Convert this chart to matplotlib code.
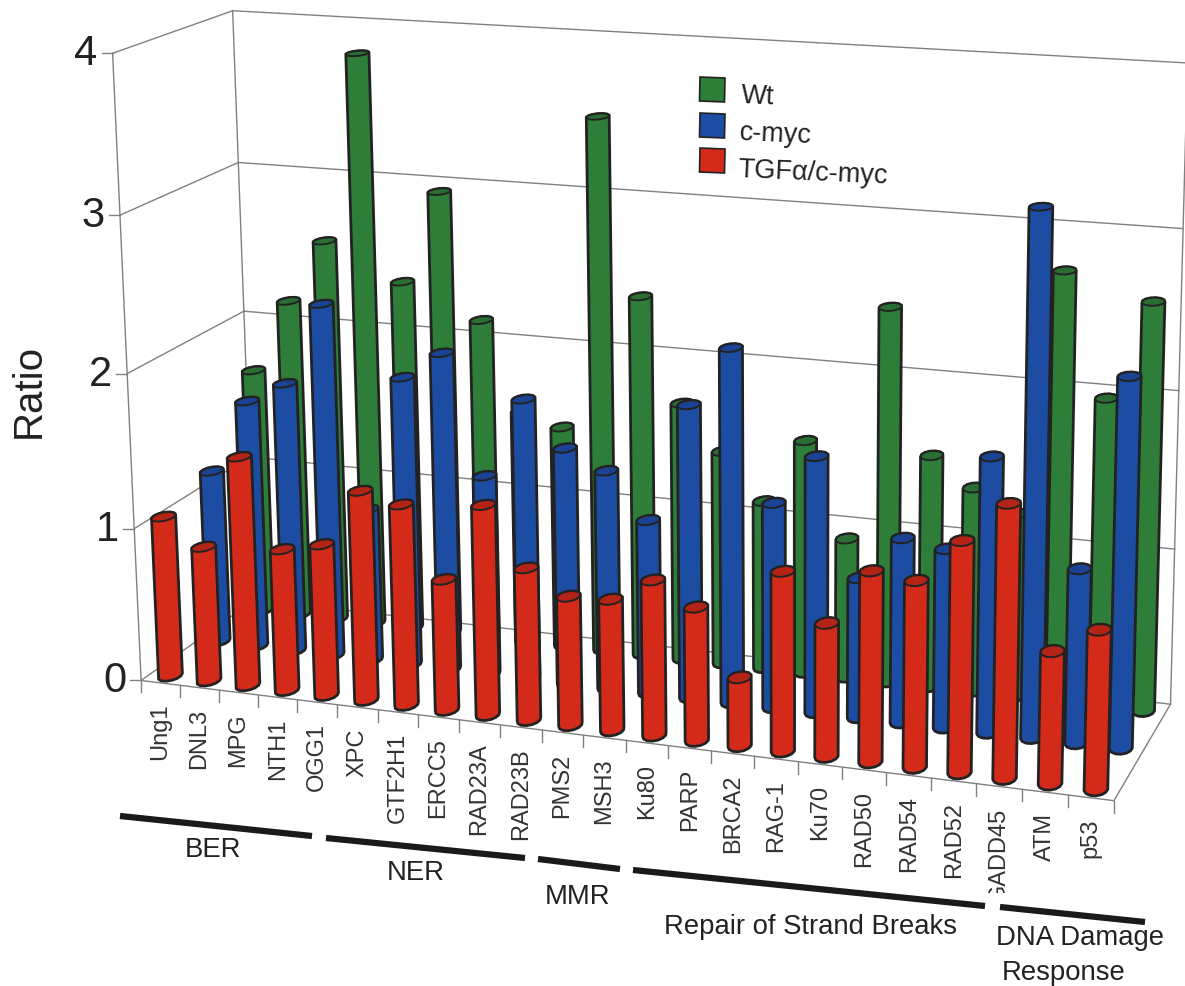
import matplotlib
matplotlib.use("Agg")
import matplotlib.pyplot as plt
import numpy as np
from matplotlib.patches import Polygon, Rectangle

plt.rcParams['font.family'] = ['Liberation Sans', 'DejaVu Sans']

genes = ['Ung1', 'DNL3', 'MPG', 'NTH1', 'OGG1', 'XPC', 'GTF2H1', 'ERCC5', 'RAD23A', 'RAD23B', 'PMS2', 'MSH3',
         'Ku80', 'PARP', 'BRCA2', 'RAG-1', 'Ku70', 'RAD50', 'RAD54', 'RAD52', 'GADD45', 'ATM', 'p53']
wt = [1.65, 2.14, 2.56, 3.80, 2.33, 2.94, 2.12, 1.54, 1.46, 3.49, 2.36, 1.69,
      1.40, 1.10, 1.52, 0.91, 2.42, 1.50, 1.32, 1.18, 2.73, 1.96, 2.58]
myc = [1.15, 1.64, 1.78, 2.32, 1.00, 1.89, 2.07, 1.30, 1.82, 1.53, 1.41, 1.12,
       1.88, 2.26, 1.31, 1.63, 0.89, 1.17, 1.13, 1.73, 3.26, 1.09, 2.29]
tgf = [1.05, 0.88, 1.49, 0.92, 0.98, 1.35, 1.29, 0.84, 1.34, 0.97, 0.82, 0.83,
       0.98, 0.84, 0.43, 1.12, 0.83, 1.18, 1.15, 1.42, 1.67, 0.81, 0.97]
series_names = ['Wt', 'c-myc', 'TGF\u03b1/c-myc']
y_ticks = [0, 1, 2, 3, 4]

GREEN, BLUE, RED = '#2e7d38', '#1c4da3', '#d42a1a'
GREEN_TOP, BLUE_TOP, RED_TOP = '#2a6e33', '#1a4394', '#b32416'
EDGE = '#222222'
GRID = '#808080'

# camera: box corners (category, depth, value) -> pixel
anchors = [
    (0, 0, 0, 141.7, 680.7), (0, 0, 1, 135, 528), (0, 0, 2, 127.5, 372), (0, 0, 3, 120, 215), (0, 0, 4, 112, 53),
    (0, 3, 0, 253, 600), (0, 3, 1, 249, 458), (0, 3, 2, 244, 312), (0, 3, 3, 239, 162.7), (0, 3, 4, 232.7, 10.7),
    (23, 3, 0, 1171.7, 700), (23, 3, 1, 1175, 549), (23, 3, 2, 1179, 393), (23, 3, 3, 1183, 229), (23, 3, 4, 1187, 62),
    (23, 0, 0, 1112.7, 803.3),
]


def fit_camera(pts):
    rows = []
    for x, y, z, u, v in pts:
        rows.append([x, y, z, 1, 0, 0, 0, 0, -u * x, -u * y, -u * z, -u])
        rows.append([0, 0, 0, 0, x, y, z, 1, -v * x, -v * y, -v * z, -v])
    return np.linalg.svd(np.array(rows, dtype=float))[2][-1].reshape(3, 4)


P = fit_camera(anchors)


def project(x, y, z):
    x, y, z = np.broadcast_arrays(x, y, z)
    q = P @ np.vstack([x.ravel(), y.ravel(), z.ravel(), np.ones(x.size)])
    return np.column_stack([q[0] / q[2], q[1] / q[2]])


def hull(pts):
    pts = sorted(map(tuple, pts))

    def half(seq):
        out = []
        for p in seq:
            while len(out) > 1 and ((out[-1][0] - out[-2][0]) * (p[1] - out[-2][1])
                                    - (out[-1][1] - out[-2][1]) * (p[0] - out[-2][0])) <= 0:
                out.pop()
            out.append(p)
        return out[:-1]

    return half(pts) + half(pts[::-1])


def cylinder(ax, i, depth, val, col, top_col, zo):
    a = np.linspace(0, 2 * np.pi, 14)[:-1] + 0.2
    cx = i + 0.5 + 0.245 * np.cos(a)
    cy = depth + 0.19 * np.sin(a)
    low = project(cx, cy, 0)
    high = project(cx, cy, val)
    ax.add_patch(Polygon(hull(np.vstack([low, high])), closed=True, fc=col, ec=EDGE, lw=2.0, zorder=zo,
                         joinstyle='round'))
    ax.add_patch(Polygon(high, closed=True, fc=top_col, ec=EDGE, lw=1.4, zorder=zo + 0.1, joinstyle='round'))


fig = plt.figure(figsize=(11.85, 9.86), dpi=100)
ax = fig.add_axes([0, 0, 1, 1])
ax.set_xlim(0, 1185)
ax.set_ylim(986, 0)
ax.axis('off')


def line3(a, b, **kw):
    p = project([a[0], b[0]], [a[1], b[1]], [a[2], b[2]])
    ax.plot(p[:, 0], p[:, 1], color=GRID, lw=kw.pop('lw', 1.0), zorder=1, clip_on=False, **kw)


n = len(genes)
for z in y_ticks:
    line3((0, 0, z), (0, 3, z))
    line3((0, 3, z), (n, 3, z))
    p = project(0, 0, z)[0]
    ax.plot([p[0] - 11, p[0]], [p[1], p[1]], color=GRID, lw=1.0, zorder=1)
    ax.text(p[0] - 15, p[1] + 1, str(z), ha='right', va='center', fontsize=30, color='#222222')
line3((0, 0, 0), (0, 0, 4))
line3((0, 3, 0), (0, 3, 4))
line3((n, 3, 0), (n, 3, 4))
line3((n, 0, 0), (n, 3, 0))
line3((0, 0, 0), (n, 0, 0))

for i in range(n + 1):
    p = project(i, 0, 0)[0]
    ax.plot([p[0], p[0]], [p[1], p[1] + 12], color=GRID, lw=1.0, zorder=1)

# back row first so the front row covers it
rows = [(2.7, wt, GREEN, GREEN_TOP), (1.5, myc, BLUE, BLUE_TOP), (0.25, tgf, RED, RED_TOP)]
zo = 2
for depth, vals, col, top_col in rows:
    for i, v in enumerate(vals):
        cylinder(ax, i, depth, v, col, top_col, zo)
        zo += 0.2

for i, g in enumerate(genes):
    p = project(i + 0.5, 0, 0)[0]
    t = ax.text(p[0], p[1] + 21, g, rotation=90, ha='center', va='top', fontsize=17, color='#333333')
    if g == 'GADD45':
        # the group bar artwork cuts this label off in the original
        t.set_clip_path(Rectangle((950, 780), 100, 113, transform=ax.transData))
        t.set_clip_on(True)

ax.text(29, 391, 'Ratio', rotation=90, ha='center', va='center', fontsize=29, color='#222222')

# group bars under the axis
group_bars = [((120, 816), (312, 836)), ((326, 838), (525, 858)), ((538, 859), (620, 869)),
              ((633, 870), (985, 906)), ((1000, 907), (1145, 922))]
for a, b in group_bars:
    ax.plot([a[0], b[0]], [a[1], b[1]], color='#1a1a1a', lw=4.5, solid_capstyle='butt')

group_labels = [('BER', 213, 850), ('NER', 416, 873), ('MMR', 578, 897), ('Repair of Strand Breaks', 811, 927),
                ('DNA Damage', 1080, 938), ('Response', 1064, 973)]
for txt, x, y in group_labels:
    ax.text(x, y, txt, ha='center', va='center', fontsize=19.8, color='#222222')

legend_y = [89, 125, 160]
for name, col, y, ty, tx in zip(series_names, [GREEN, BLUE, RED], legend_y, [96, 133, 170], [741, 739, 738]):
    ax.add_patch(Polygon([(700, y - 12), (725, y - 11), (724.5, y + 13), (699.5, y + 12)], closed=True,
                         fc=col, ec=EDGE, lw=1.2, zorder=3))
    ax.text(tx, ty, name, ha='left', va='center', fontsize=19.5, rotation=-2.5, rotation_mode='anchor',
            color='#222222')

fig.savefig('out.png', dpi=100)
